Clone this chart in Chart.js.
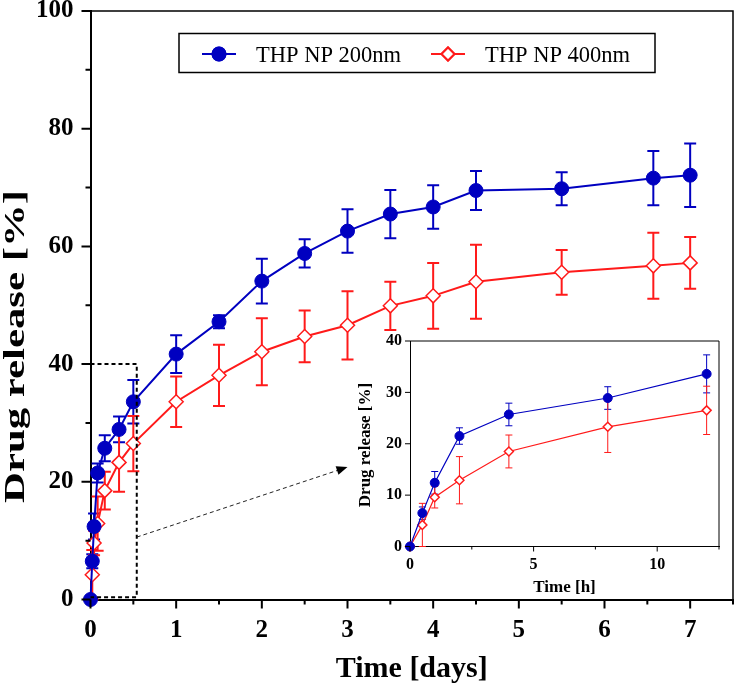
<!DOCTYPE html>
<html>
<head>
<meta charset="utf-8">
<title>Drug release</title>
<script src="https://cdn.jsdelivr.net/npm/chart.js@4.4.1/dist/chart.umd.min.js"></script>
<style>
  body { margin: 0; background: #fff; }
  #wrap { position: relative; width: 735px; height: 687px; }
  #wrap canvas { position: absolute; left: 0; top: 0; }
  #inset { pointer-events: none; }
</style>
</head>
<body>
<div id="wrap">
  <canvas id="main" width="735" height="687"></canvas>
  <canvas id="inset" width="735" height="687"></canvas>
</div>
<script>
// sampling times
const hoursEarly = [0, 0.5, 1, 2, 4, 8, 12];
const daysLater = [1, 1.5, 2, 2.5, 3, 3.5, 4, 4.5, 5.5, 6.57, 7];

// THP NP 200nm
const np200Early = [0, 6.5, 12.4, 21.5, 25.7, 28.9, 33.6];
const np200EarlyErr = [0, 1.2, 2.2, 1.6, 2.2, 2.2, 3.7];
const np200Later = [41.7, 47.2, 54.1, 58.8, 62.6, 65.5, 66.7, 69.5, 69.8, 71.6, 72.1];
const np200LaterErr = [3.2, 1.1, 3.8, 2.4, 3.7, 4.1, 3.7, 3.3, 2.8, 4.6, 5.4];

// THP NP 400nm
const np400Early = [0, 4.2, 9.6, 12.9, 18.5, 23.3, 26.5];
const np400EarlyErr = [0, 4.2, 2.1, 4.6, 3.2, 5.0, 4.7];
const np400Later = [33.6, 38.1, 42.1, 44.7, 46.6, 49.9, 51.6, 54.0, 55.6, 56.7, 57.2];
const np400LaterErr = [4.3, 5.2, 5.7, 4.4, 5.8, 4.1, 5.6, 6.3, 3.8, 5.6, 4.4];

// tick labels
const mainXLabels = [0, 1, 2, 3, 4, 5, 6, 7];
const mainYLabels = [0, 20, 40, 60, 80, 100];
const insetXLabels = [0, 5, 10];
const insetYLabels = [0, 10, 20, 30, 40];

const BLUE = '#0000c0';
const RED = '#ff1a1a';
const SERIF = "'Liberation Serif', 'Times New Roman', serif";

Chart.defaults.font.family = SERIF;
Chart.defaults.color = '#000';

function toPoints(xs, ys) {
  return xs.map((x, i) => ({ x: x, y: ys[i] }));
}

// main chart works in days, so the hourly points are converted
const earlyInDays = hoursEarly.map(h => h / 24);
const mainX = earlyInDays.concat(daysLater);

// error bars, drawn under the markers
function drawErrorBars(chart, cap, lw) {
  const ctx = chart.ctx;
  const ys = chart.scales.y;
  chart.data.datasets.forEach((ds, i) => {
    const meta = chart.getDatasetMeta(i);
    ctx.save();
    ctx.strokeStyle = ds.borderColor;
    ctx.lineWidth = lw;
    ctx.beginPath();
    meta.data.forEach((pt, j) => {
      const e = ds.err[j];
      if (!e) return;
      const v = ds.data[j].y;
      const top = ys.getPixelForValue(v + e);
      const bot = ys.getPixelForValue(Math.max(v - e, 0));
      ctx.moveTo(pt.x, top); ctx.lineTo(pt.x, bot);
      ctx.moveTo(pt.x - cap, top); ctx.lineTo(pt.x + cap, top);
      ctx.moveTo(pt.x - cap, bot); ctx.lineTo(pt.x + cap, bot);
    });
    ctx.stroke();
    ctx.restore();
  });
}

// outward tick marks, majors longer than minors
function drawTicks(chart, o) {
  const ctx = chart.ctx;
  const xs = chart.scales.x, ys = chart.scales.y;
  const a = chart.chartArea;
  ctx.save();
  ctx.strokeStyle = '#000';
  ctx.lineWidth = o.width;
  ctx.beginPath();
  xs.ticks.forEach(t => {
    const px = xs.getPixelForValue(t.value);
    const len = o.xMajor.includes(t.value) ? o.major : o.minor;
    ctx.moveTo(px, a.bottom);
    ctx.lineTo(px, a.bottom + len);
  });
  ys.ticks.forEach(t => {
    const py = ys.getPixelForValue(t.value);
    const len = o.yMajor.includes(t.value) ? o.major : o.minor;
    ctx.moveTo(a.left, py);
    ctx.lineTo(a.left - len, py);
  });
  ctx.stroke();
  // top and right sides of the frame
  ctx.lineWidth = o.frame;
  ctx.beginPath();
  ctx.moveTo(a.left, a.top);
  ctx.lineTo(a.right, a.top);
  ctx.lineTo(a.right, a.bottom);
  ctx.stroke();
  ctx.restore();
}

function rotatedText(ctx, text, x, y, font, stretchTo) {
  ctx.save();
  ctx.font = font;
  ctx.translate(x, y);
  ctx.rotate(-Math.PI / 2);
  if (stretchTo) {
    const w = ctx.measureText(text).width;
    ctx.scale(stretchTo / w, 1);
  }
  ctx.textAlign = 'center';
  ctx.textBaseline = 'alphabetic';
  ctx.fillStyle = '#000';
  ctx.fillText(text, 0, 0);
  ctx.restore();
}

// keep the plot box where the fixed sizes put it
function noEdgePadding(s) {
  s.paddingLeft = 0;
  s.paddingRight = 0;
  s.paddingTop = 0;
  s.paddingBottom = 0;
}

const mainDecor = {
  id: 'mainDecor',
  beforeDatasetsDraw(chart) {
    drawErrorBars(chart, 6, 2);
  },
  afterDraw(chart) {
    const ctx = chart.ctx;
    const xs = chart.scales.x, ys = chart.scales.y;
    const a = chart.chartArea;

    drawTicks(chart, { width: 2, major: 9, minor: 5, frame: 1.5, xMajor: mainXLabels, yMajor: mainYLabels });

    // zoom box around the first 12 hours
    ctx.save();
    ctx.strokeStyle = '#000';
    ctx.lineWidth = 2;
    ctx.setLineDash([4, 3]);
    const bx = xs.getPixelForValue(0.54);
    const by = ys.getPixelForValue(40);
    const b0 = ys.getPixelForValue(0.4);
    ctx.beginPath();
    ctx.moveTo(xs.getPixelForValue(0), by);
    ctx.lineTo(bx, by);
    ctx.lineTo(bx, b0);
    ctx.lineTo(xs.getPixelForValue(0), b0);
    ctx.stroke();

    // arrow towards the inset
    const sx = bx, sy = ys.getPixelForValue(10.6);
    const ex = xs.getPixelForValue(3.0), ey = ys.getPixelForValue(22.5);
    const ang = Math.atan2(ey - sy, ex - sx);
    ctx.lineWidth = 1;
    ctx.strokeStyle = '#222';
    ctx.setLineDash([4, 3]);
    ctx.beginPath();
    ctx.moveTo(sx, sy);
    ctx.lineTo(ex - 9 * Math.cos(ang), ey - 9 * Math.sin(ang));
    ctx.stroke();
    ctx.setLineDash([]);
    ctx.fillStyle = '#000';
    ctx.beginPath();
    ctx.moveTo(ex, ey);
    ctx.lineTo(ex - 11 * Math.cos(ang) + 4.5 * Math.sin(ang), ey - 11 * Math.sin(ang) - 4.5 * Math.cos(ang));
    ctx.lineTo(ex - 11 * Math.cos(ang) - 4.5 * Math.sin(ang), ey - 11 * Math.sin(ang) + 4.5 * Math.cos(ang));
    ctx.closePath();
    ctx.fill();
    ctx.restore();

    // legend
    ctx.save();
    ctx.strokeStyle = '#000';
    ctx.lineWidth = 1.5;
    ctx.strokeRect(179, 33.5, 476, 39);
    const ly = 54;
    const items = [
      { ds: chart.data.datasets[0], x0: 202, text: 'THP NP 200nm', tx: 256 },
      { ds: chart.data.datasets[1], x0: 431, text: 'THP NP 400nm', tx: 485 }
    ];
    items.forEach(it => {
      ctx.strokeStyle = it.ds.borderColor;
      ctx.lineWidth = 2;
      ctx.beginPath();
      ctx.moveTo(it.x0, ly);
      ctx.lineTo(it.x0 + 34, ly);
      ctx.stroke();
      Chart.helpers.drawPoint(ctx, {
        pointStyle: it.ds.pointStyle,
        radius: 6.5,
        borderWidth: it.ds.pointBorderWidth
      }, it.x0 + 17, ly);
      ctx.fillStyle = it.ds.pointBackgroundColor;
      ctx.fill();
      ctx.stroke();
      ctx.fillStyle = '#000';
      ctx.font = '22.5px ' + SERIF;
      ctx.textBaseline = 'alphabetic';
      ctx.fillText(it.text, it.tx, 61.5);
    });
    ctx.restore();

    // axis titles
    ctx.save();
    ctx.fillStyle = '#000';
    ctx.font = 'bold 30px ' + SERIF;
    ctx.textAlign = 'center';
    ctx.textBaseline = 'alphabetic';
    ctx.fillText('Time [days]', (a.left + a.right) / 2, 677);
    ctx.restore();
    rotatedText(ctx, 'Drug release [%]', 24, 346.5, 'bold 30px ' + SERIF, 313);
  }
};

const insetDecor = {
  id: 'insetDecor',
  beforeDatasetsDraw(chart) {
    drawErrorBars(chart, 3.5, 1);
  },
  afterDraw(chart) {
    const ctx = chart.ctx;
    const a = chart.chartArea;
    drawTicks(chart, { width: 1, major: 5, minor: 3, frame: 1, xMajor: insetXLabels, yMajor: insetYLabels });
    ctx.save();
    ctx.fillStyle = '#000';
    ctx.font = 'bold 17px ' + SERIF;
    ctx.textAlign = 'center';
    ctx.textBaseline = 'alphabetic';
    ctx.fillText('Time [h]', (a.left + a.right) / 2, 591.5);
    ctx.restore();
    rotatedText(ctx, 'Drug release [%]', 370, 445, 'bold 17px ' + SERIF);
  }
};

function seriesStyle(color, filled, radius, lineWidth) {
  return {
    borderColor: color,
    backgroundColor: filled ? color : '#fff',
    pointBackgroundColor: filled ? color : '#fff',
    pointBorderColor: color,
    pointStyle: filled ? 'circle' : 'rectRot',
    pointRadius: radius,
    pointBorderWidth: filled ? 1 : 1.5,
    borderWidth: lineWidth,
    tension: 0,
    clip: false
  };
}

// main chart
new Chart(document.getElementById('main').getContext('2d'), {
  type: 'line',
  data: {
    datasets: [
      Object.assign({
        label: 'THP NP 200nm',
        data: toPoints(mainX, np200Early.concat(np200Later)),
        err: np200EarlyErr.concat(np200LaterErr)
      }, seriesStyle(BLUE, true, 7, 2)),
      Object.assign({
        label: 'THP NP 400nm',
        data: toPoints(mainX, np400Early.concat(np400Later)),
        err: np400EarlyErr.concat(np400LaterErr)
      }, seriesStyle(RED, false, 7, 2))
    ]
  },
  options: {
    responsive: false,
    animation: false,
    events: [],
    layout: { autoPadding: false, padding: { top: 11, right: 2, left: 0, bottom: 0 } },
    plugins: { legend: { display: false }, tooltip: { enabled: false } },
    scales: {
      x: {
        type: 'linear',
        min: 0,
        max: 7.5,
        afterFit: s => { s.height = 87.5; noEdgePadding(s); },
        ticks: {
          stepSize: 0.5,
          autoSkip: false,
          maxRotation: 0,
          padding: 16,
          color: '#000',
          font: { size: 25, weight: 'bold' },
          callback: v => mainXLabels.includes(v) ? String(v) : ''
        },
        grid: { display: false, drawTicks: false },
        border: { display: true, color: '#000', width: 2 }
      },
      y: {
        min: 0,
        max: 100,
        afterFit: s => { s.width = 90.5; noEdgePadding(s); },
        ticks: {
          stepSize: 10,
          autoSkip: false,
          padding: 17,
          color: '#000',
          font: { size: 25, weight: 'bold' },
          callback: v => mainYLabels.includes(v) ? String(v) : ''
        },
        grid: { display: false, drawTicks: false },
        border: { display: true, color: '#000', width: 2 }
      }
    }
  },
  plugins: [mainDecor]
});

// inset: first 12 hours
new Chart(document.getElementById('inset').getContext('2d'), {
  type: 'line',
  data: {
    datasets: [
      Object.assign({
        label: 'THP NP 200nm',
        data: toPoints(hoursEarly, np200Early),
        err: np200EarlyErr
      }, seriesStyle(BLUE, true, 4.5, 1.2)),
      Object.assign({
        label: 'THP NP 400nm',
        data: toPoints(hoursEarly, np400Early),
        err: np400EarlyErr
      }, seriesStyle(RED, false, 4.5, 1.2))
    ]
  },
  options: {
    responsive: false,
    animation: false,
    events: [],
    layout: { autoPadding: false, padding: { top: 341, right: 16, left: 340, bottom: 85.5 } },
    plugins: { legend: { display: false }, tooltip: { enabled: false } },
    scales: {
      x: {
        type: 'linear',
        min: 0,
        max: 12.5,
        afterFit: s => { s.height = 55; noEdgePadding(s); },
        ticks: {
          stepSize: 2.5,
          autoSkip: false,
          maxRotation: 0,
          padding: 9,
          color: '#000',
          font: { size: 16, weight: 'bold' },
          callback: v => insetXLabels.includes(v) ? String(v) : ''
        },
        grid: { display: false, drawTicks: false },
        border: { display: true, color: '#000', width: 1 }
      },
      y: {
        min: 0,
        max: 40,
        afterFit: s => { s.width = 70; noEdgePadding(s); },
        ticks: {
          stepSize: 10,
          autoSkip: false,
          padding: 8,
          color: '#000',
          font: { size: 16, weight: 'bold' },
          callback: v => insetYLabels.includes(v) ? String(v) : ''
        },
        grid: { display: false, drawTicks: false },
        border: { display: true, color: '#000', width: 1 }
      }
    }
  },
  plugins: [insetDecor]
});
</script>
</body>
</html>
